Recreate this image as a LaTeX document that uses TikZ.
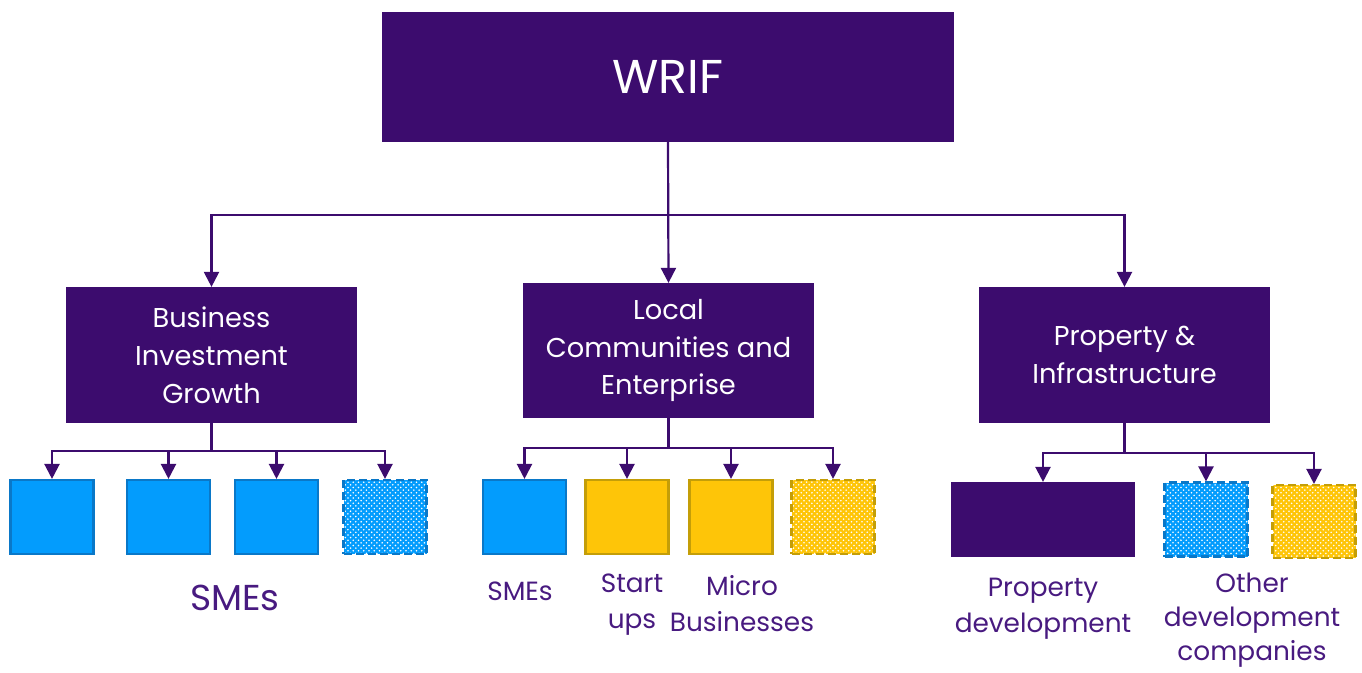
\documentclass[tikz,border=0pt]{standalone}
\usepackage{fontspec}
\setmainfont{Poppins}
\usetikzlibrary{positioning}
\usetikzlibrary{arrows.meta}
\usetikzlibrary{patterns}

\definecolor{wpurple}{RGB}{60,12,110}
\definecolor{wtext}{RGB}{72,26,128}
\definecolor{wblue}{RGB}{3,156,253}
\definecolor{wblueline}{RGB}{10,120,200}
\definecolor{wyellow}{RGB}{254,197,8}
\definecolor{wyellowline}{RGB}{196,158,8}

\begin{document}
\begin{tikzpicture}[->,>={Triangle[width=0.3cm,length=0.3cm]},line width=1.25pt,
	draw=wpurple,
	main box/.style={rectangle,draw=wpurple,fill=wpurple,text=white,align=center,
		minimum width=5.78cm,minimum height=2.68cm,font=\fontsize{15.5}{21.6}\selectfont},
	sub box/.style={rectangle,inner sep=0pt,minimum width=1.66cm,minimum height=1.48cm,line width=1.2pt},
	blue box/.style={sub box,draw=wblueline,fill=wblue},
	yellow box/.style={sub box,draw=wyellowline,fill=wyellow},
	blue dots/.style={sub box,draw=wblueline,dash pattern=on 0.16cm off 0.08cm,
		preaction={fill=wblue},pattern=crosshatch dots,pattern color=white},
	yellow dots/.style={sub box,draw=wyellowline,dash pattern=on 0.16cm off 0.08cm,
		preaction={fill=wyellow},pattern=crosshatch dots,pattern color=white},
	label text/.style={text=wtext,align=center,font=\fontsize{15}{20.5}\selectfont}]

	\useasboundingbox (0,0) rectangle (27.24,13.44);

	% top level
	\node[main box,minimum width=11.4cm,minimum height=2.56cm,font=\fontsize{27}{30}\selectfont] (wrif) at (13.36,11.9) {WRIF};

	% funds
	\node[main box] (big) at (4.23,6.34) {Business\\Investment\\Growth};
	\node[main box,minimum height=2.66cm] (lce) at (13.37,6.43) {Local\\Communities and\\Enterprise};
	\node[main box] (pi) at (22.49,6.34) {Property \&\\Infrastructure};

	\coordinate (jt) at (13.36,9.14);
	\draw (wrif.south) -- (jt) -| (big.north);
	\draw (wrif.south) -- (lce.north);
	\draw (wrif.south) -- (jt) -| (pi.north);

	% business investment growth
	\node[blue box] (b1) at (1.04,3.1) {};
	\node[blue box] (b2) at (3.37,3.1) {};
	\node[blue box] (b3) at (5.53,3.1) {};
	\node[blue dots] (b4) at (7.7,3.1) {};
	\coordinate (jb) at (4.23,4.42);
	\foreach \n in {b1,b2,b3,b4}
		\draw (big.south) -- (jb) -| (\n.north);
	\node[label text,font=\fontsize{20.5}{24}\selectfont] (smes) at (4.7,1.48) {SMEs};

	% local communities and enterprise
	\node[blue box] (l1) at (10.49,3.1) {};
	\node[yellow box] (l2) at (12.54,3.1) {};
	\node[yellow box] (l3) at (14.62,3.1) {};
	\node[yellow dots] (l4) at (16.66,3.1) {};
	\coordinate (jl) at (13.37,4.48);
	\foreach \n in {l1,l2,l3,l4}
		\draw (lce.south) -- (jl) -| (\n.north);
	\node[label text] (lsmes) at (10.4,1.62) {SMEs};
	\node[label text] (start) at (12.64,1.34) {Start\\ups};
	\node[label text] (micro) at (14.84,1.36) {Micro\\Businesses};

	% property and infrastructure
	\node[sub box,draw=wpurple,fill=wpurple,minimum width=3.64cm,minimum height=1.46cm] (p1) at (20.86,3.05) {};
	\node[blue dots] (p2) at (24.12,3.05) {};
	\node[yellow dots,minimum height=1.46cm] (p3) at (26.28,3.01) {};
	\coordinate (jp) at (22.49,4.38);
	\foreach \n in {p1,p2,p3}
		\draw (pi.south) -- (jp) -| (\n.north);
	\node[label text] (propdev) at (20.86,1.26) {Property\\development};
	\node[label text,font=\fontsize{15}{19.5}\selectfont] (other) at (25.04,1.04) {Other\\development\\companies};
\end{tikzpicture}
\end{document}
